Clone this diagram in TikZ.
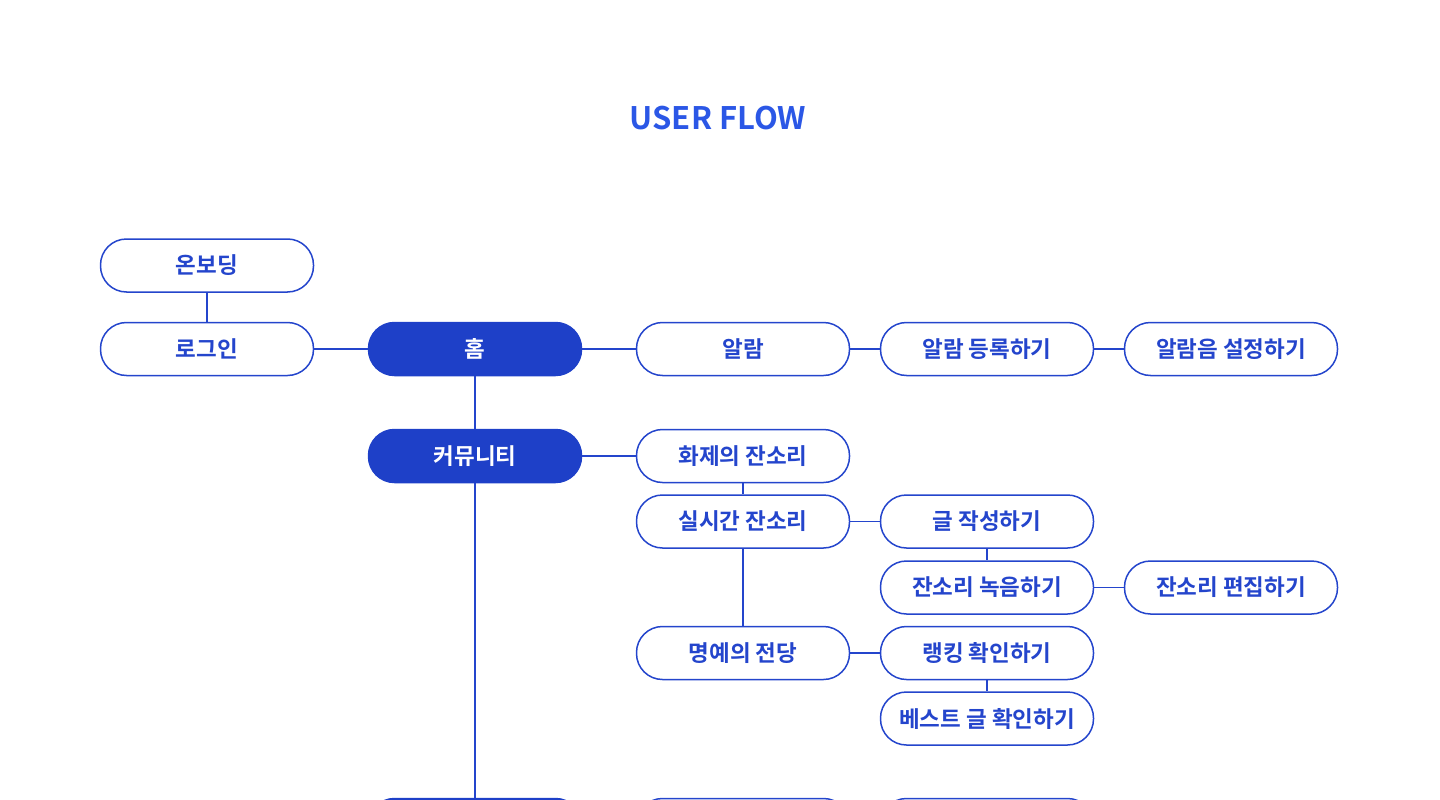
\documentclass[tikz,border=0pt]{standalone}
\usepackage{fontspec}
\setmainfont{Noto Sans CJK KR}[BoldFont={Noto Sans CJK KR Bold}]
\newfontfamily\medfont{Noto Sans CJK KR Medium}

\begin{document}
\begin{tikzpicture}[x=1pt,y=-1pt]
  % Colors
  \definecolor{titlecolor}{HTML}{2B57E6}
  \definecolor{flowcolor}{HTML}{2445CC}
  \definecolor{boxfill}{HTML}{1E40C8}

  % Styles
  \tikzstyle{flow box}=[draw=flowcolor,fill=white,line width=1.5pt,
    rounded corners=26pt,minimum width=213pt,minimum height=53pt,
    inner sep=0pt,text=flowcolor,font=\bfseries\fontsize{22.5}{26}\selectfont]
  \tikzstyle{main box}=[flow box,draw=boxfill,fill=boxfill,text=white]
  \tikzstyle{link}=[draw=flowcolor,line width=1.5pt]

  \useasboundingbox (0,0) rectangle (1440,800);

  % Title
  \node[text=titlecolor,font=\bfseries\fontsize{31}{36}\selectfont] (title) at (718,118) {USER FLOW};

  % The graphic
  \node[flow box] (onboard) at (207,265.5) {온보딩};
  \node[flow box] (login) at (207,349) {로그인};
  \node[main box] (home) at (475,349) {홈};
  \node[flow box] (alarm) at (743,349) {알람};
  \node[flow box] (alarmadd) at (987,349) {알람 등록하기};
  \node[flow box] (alarmsound) at (1231,349) {알람음 설정하기};

  \node[main box] (community) at (475,456) {커뮤니티};
  \node[flow box] (hot) at (743,456) {화제의 잔소리};
  \node[flow box] (live) at (743,521.5) {실시간 잔소리};
  \node[flow box] (write) at (987,521.5) {글 작성하기};
  \node[flow box] (record) at (987,587.5) {잔소리 녹음하기};
  \node[flow box] (edit) at (1231,587.5) {잔소리 편집하기};
  \node[flow box] (fame) at (743,653) {명예의 전당};
  \node[flow box] (ranking) at (987,653) {랭킹 확인하기};
  \node[flow box] (best) at (987,718.5) {베스트 글 확인하기};

  % next rows (cut off by the page)
  \node[main box] (nextmain) at (475,825) {};
  \node[flow box] (nextsub) at (743,825) {};
  \node[flow box] (nextstep) at (987,825) {};

  % Links
  \draw[link] (onboard) -- (login);
  \draw[link] (login) -- (home);
  \draw[link] (home) -- (alarm);
  \draw[link] (alarm) -- (alarmadd);
  \draw[link] (alarmadd) -- (alarmsound);
  \draw[link] (home) -- (community);
  \draw[link] (community) -- (hot);
  \draw[link] (hot) -- (live);
  \draw[link] (live) -- (write);
  \draw[link] (write) -- (record);
  \draw[link] (record) -- (edit);
  \draw[link] (live) -- (fame);
  \draw[link] (fame) -- (ranking);
  \draw[link] (ranking) -- (best);
  \draw[link] (community) -- (nextmain);
\end{tikzpicture}
\end{document}
